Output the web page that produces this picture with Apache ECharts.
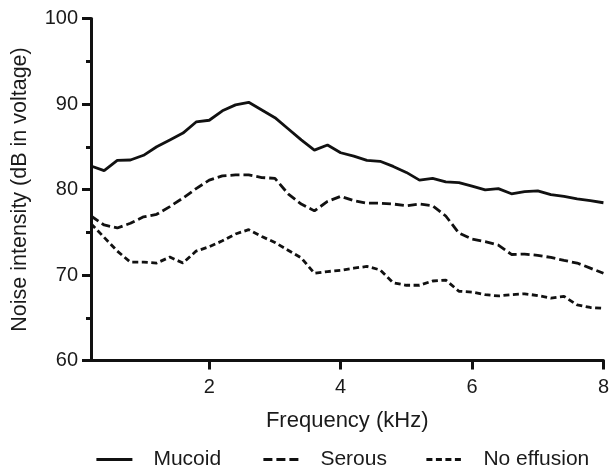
<!DOCTYPE html>
<html>
<head>
<meta charset="utf-8">
<script src="https://cdn.jsdelivr.net/npm/echarts@6/dist/echarts.min.js"></script>
<style>
html,body{margin:0;padding:0;background:#fff;}
#chart{width:612px;height:473px;}
</style>
</head>
<body>
<div id="chart"></div>
<script>
const freq = [0.2,0.4,0.6,0.8,1.0,1.2,1.4,1.6,1.8,2.0,2.2,2.4,2.6,2.8,3.0,3.2,3.4,3.6,3.8,4.0,4.2,4.4,4.6,4.8,5.0,5.2,5.4,5.6,5.8,6.0,6.2,6.4,6.6,6.8,7.0,7.2,7.4,7.6,7.8,8.0];
const mucoid = [82.75,82.2,83.4,83.45,84.0,85.0,85.8,86.6,87.9,88.1,89.2,89.9,90.2,89.3,88.4,87.1,85.8,84.6,85.2,84.3,83.9,83.4,83.3,82.7,82.0,81.1,81.3,80.9,80.8,80.4,79.95,80.1,79.5,79.75,79.85,79.4,79.2,78.9,78.7,78.45];
const serous = [76.9,75.85,75.5,76.05,76.8,77.1,78.0,79.0,80.1,81.1,81.6,81.7,81.7,81.4,81.3,79.5,78.3,77.5,78.6,79.2,78.7,78.4,78.4,78.3,78.1,78.3,78.1,76.9,74.9,74.2,73.9,73.5,72.4,72.45,72.3,72.05,71.7,71.4,70.8,70.2];
const noEffusion = [76.0,74.4,72.8,71.5,71.5,71.4,72.1,71.4,72.8,73.3,74.0,74.8,75.3,74.5,73.8,72.9,72.0,70.2,70.4,70.55,70.8,71.0,70.6,69.1,68.8,68.8,69.3,69.4,68.1,68.0,67.7,67.55,67.7,67.8,67.6,67.3,67.5,66.5,66.2,66.1];
const xTicks = [2,4,6,8];
const seriesNames = ['Mucoid','Serous','No effusion'];

const pair = arr => freq.map((f,i)=>[f,arr[i]]);
const FONT = 'Liberation Sans, Arial, Helvetica, sans-serif';
const TXT = '#1a1a1a';
const LINE = '#111';

const chart = echarts.init(document.getElementById('chart'), null, {renderer:'canvas'});

function legendAt(name, left){
  return {
    data:[name], left:left, top:449, orient:'horizontal', padding:0,
    itemWidth:36, itemHeight:14,
    itemStyle:{color:'rgba(0,0,0,0)', borderWidth:0, opacity:0},
    lineStyle:{width:2.8},
    textStyle:{fontFamily:FONT, fontSize:21, color:TXT, padding:[0,0,0,16]}
  };
}

chart.setOption({
  animation:false,
  backgroundColor:'#fff',
  grid:{left:91, right:7, top:18.5, bottom:112.5, containLabel:false},
  legend:[legendAt(seriesNames[0],95), legendAt(seriesNames[1],262), legendAt(seriesNames[2],425)],
  xAxis:{
    type:'value', min:0.2, max:8,
    name:'Frequency (kHz)', nameLocation:'middle', nameGap:49,
    nameTextStyle:{fontFamily:FONT, fontSize:22, color:TXT},
    axisLine:{show:true, onZero:false, lineStyle:{color:LINE, width:3}},
    axisTick:{show:true, length:9, customValues:xTicks, lineStyle:{color:LINE, width:3}},
    axisLabel:{customValues:xTicks, margin:17, fontFamily:FONT, fontSize:20, color:TXT},
    splitLine:{show:false}
  },
  yAxis:{
    type:'value', min:60, max:100, interval:10,
    name:'Noise intensity (dB in voltage)', nameLocation:'middle', nameGap:60,
    nameTextStyle:{fontFamily:FONT, fontSize:21.5, color:TXT},
    axisLine:{show:true, onZero:false, lineStyle:{color:LINE, width:3}},
    axisTick:{show:true, length:9, lineStyle:{color:LINE, width:3}},
    minorTick:{show:true, splitNumber:2, length:5, lineStyle:{color:LINE, width:3}},
    axisLabel:{margin:13, fontFamily:FONT, fontSize:20, color:TXT},
    splitLine:{show:false}, minorSplitLine:{show:false}
  },
  series:[
    {name:seriesNames[0], type:'line', data:pair(mucoid), symbol:'none', color:LINE,
     lineStyle:{color:LINE, width:2.8, type:'solid'}},
    {name:seriesNames[1], type:'line', data:pair(serous), symbol:'none', color:LINE,
     lineStyle:{color:LINE, width:2.8, type:[9,4]}},
    {name:seriesNames[2], type:'line', data:pair(noEffusion), symbol:'none', color:LINE,
     lineStyle:{color:LINE, width:2.8, type:[6,3.5]}}
  ]
});
</script>
</body>
</html>
